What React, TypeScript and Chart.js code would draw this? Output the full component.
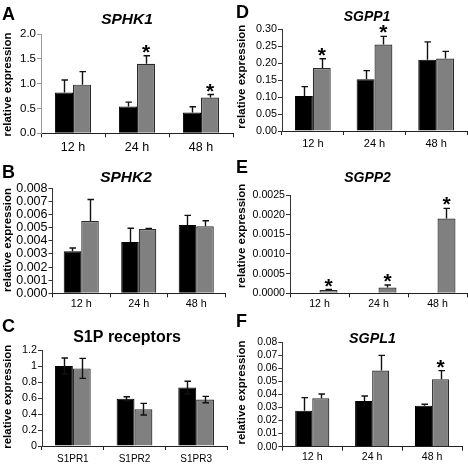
import React, { useEffect, useRef } from "react";
import { Chart, registerables } from "chart.js";

Chart.register(...registerables);

const FONT = "'Liberation Sans', Arial, sans-serif";

// ---------- data ----------
const timeLabels = ["12 h", "24 h", "48 h"];
const receptorLabels = ["S1PR1", "S1PR2", "S1PR3"];

// A  SPHK1
const sphk1Control = [0.82, 0.54, 0.42];
const sphk1Treated = [0.98, 1.4, 0.72];
const sphk1ControlErr = [0.255, 0.087, 0.115];
const sphk1TreatedErr = [0.263, 0.162, 0.061];
const sphk1Sig = [false, true, true];
const sphk1Ticks = ["0.0", "0.5", "1.0", "1.5", "2.0"];

// B  SPHK2
const sphk2Control = [0.0032, 0.0039, 0.0052];
const sphk2Treated = [0.0055, 0.0049, 0.0051];
const sphk2ControlErr = [0.00025, 0.00106, 0.00074];
const sphk2TreatedErr = [0.00165, 0.00005, 0.00043];
const sphk2Sig = [false, false, false];
const sphk2Ticks = ["0.000", "0.001", "0.002", "0.003", "0.004", "0.005", "0.006", "0.007", "0.008"];

// C  S1P receptors
const s1prControl = [1.0, 0.59, 0.73];
const s1prTreated = [0.97, 0.46, 0.58];
const s1prControlErr = [0.1, 0.025, 0.08];
const s1prTreatedErr = [0.125, 0.073, 0.04];
const s1prSig = [false, false, false];
const s1prTicks = ["0", "0.2", "0.4", "0.6", "0.8", "1", "1.2"];

// D  SGPP1
const sgpp1Control = [0.103, 0.153, 0.21];
const sgpp1Treated = [0.186, 0.255, 0.214];
const sgpp1ControlErr = [0.028, 0.025, 0.053];
const sgpp1TreatedErr = [0.027, 0.024, 0.021];
const sgpp1Sig = [true, true, false];
const sgpp1Ticks = ["0.00", "0.05", "0.10", "0.15", "0.20", "0.25", "0.30"];

// E  SGPP2
const sgpp2Control = [0, 0, 0];
const sgpp2Treated = [0.000085, 0.000145, 0.0019];
const sgpp2ControlErr = [0, 0, 0];
const sgpp2TreatedErr = [0.00001, 0.000065, 0.00026];
const sgpp2Sig = [true, true, true];
const sgpp2Ticks = ["0.0000", "0.0005", "0.0010", "0.0015", "0.0020", "0.0025"];

// F  SGPL1
const sgpl1Control = [0.0276, 0.035, 0.0314];
const sgpl1Treated = [0.0371, 0.0583, 0.0516];
const sgpl1ControlErr = [0.01, 0.0039, 0.0011];
const sgpl1TreatedErr = [0.0033, 0.0117, 0.0067];
const sgpl1Sig = [false, false, true];
const sgpl1Ticks = ["0.00", "0.01", "0.02", "0.03", "0.04", "0.05", "0.06", "0.07", "0.08"];

// ---------- panel layout ----------
const PW = 234;
const PH = 155;

type PanelCfg = {
  letter: string;
  letterY: number;
  title: string;
  italic: boolean;
  titleSize: number;
  titleX: number;
  titleY: number;
  yTitleY: number;
  offX: number;
  offY: number;
  chartLeft: number;
  chartRight: number;
  chartTop: number;
  chartBottom: number;
  labels: string[];
  control: number[];
  treated: number[];
  controlErr: number[];
  treatedErr: number[];
  sig: boolean[];
  twoSided: boolean;
  ticks: string[];
  yTickSize: number;
  xTickSize: number;
  xPad: number;
  catPct: number;
  yAxisColor: string;
};

const panels: PanelCfg[] = [
  {
    letter: "A", letterY: 20, title: "SPHK1", italic: true, titleSize: 15.5, titleX: 127, titleY: 20, yTitleY: 84.5,
    offX: 0, offY: 0, chartLeft: 41, chartRight: 233, chartTop: 34, chartBottom: 133.3,
    labels: timeLabels, control: sphk1Control, treated: sphk1Treated, controlErr: sphk1ControlErr, treatedErr: sphk1TreatedErr,
    sig: sphk1Sig, twoSided: false, ticks: sphk1Ticks, yTickSize: 11.5, xTickSize: 12.5, xPad: 3, catPct: 0.565, yAxisColor: "#9a9a9a",
  },
  {
    letter: "B", letterY: 23, title: "SPHK2", italic: true, titleSize: 15.5, titleX: 126, titleY: 23, yTitleY: 85,
    offX: 0, offY: 155, chartLeft: 52.5, chartRight: 225, chartTop: 33.3, chartBottom: 138.3,
    labels: timeLabels, control: sphk2Control, treated: sphk2Treated, controlErr: sphk2ControlErr, treatedErr: sphk2TreatedErr,
    sig: sphk2Sig, twoSided: false, ticks: sphk2Ticks, yTickSize: 12.5, xTickSize: 10.8, xPad: 0, catPct: 0.61, yAxisColor: "#333",
  },
  {
    letter: "C", letterY: 22, title: "S1P receptors", italic: false, titleSize: 16, titleX: 127, titleY: 28, yTitleY: 86.7,
    offX: 0, offY: 310, chartLeft: 42, chartRight: 227, chartTop: 40, chartBottom: 136,
    labels: receptorLabels, control: s1prControl, treated: s1prTreated, controlErr: s1prControlErr, treatedErr: s1prTreatedErr,
    sig: s1prSig, twoSided: true, ticks: s1prTicks, yTickSize: 10.8, xTickSize: 10, xPad: 3, catPct: 0.58, yAxisColor: "#333",
  },
  {
    letter: "D", letterY: 18, title: "SGPP1", italic: true, titleSize: 14, titleX: 133, titleY: 16.7, yTitleY: 76.7,
    offX: 234, offY: 0, chartLeft: 48, chartRight: 233, chartTop: 29.3, chartBottom: 131,
    labels: timeLabels, control: sgpp1Control, treated: sgpp1Treated, controlErr: sgpp1ControlErr, treatedErr: sgpp1TreatedErr,
    sig: sgpp1Sig, twoSided: false, ticks: sgpp1Ticks, yTickSize: 10.8, xTickSize: 11, xPad: 2, catPct: 0.58, yAxisColor: "#333",
  },
  {
    letter: "E", letterY: 18, title: "SGPP2", italic: true, titleSize: 14, titleX: 133.5, titleY: 23, yTitleY: 80.8,
    offX: 234, offY: 155, chartLeft: 56, chartRight: 233, chartTop: 40, chartBottom: 138.3,
    labels: timeLabels, control: sgpp2Control, treated: sgpp2Treated, controlErr: sgpp2ControlErr, treatedErr: sgpp2TreatedErr,
    sig: sgpp2Sig, twoSided: false, ticks: sgpp2Ticks, yTickSize: 10.6, xTickSize: 10.6, xPad: 0, catPct: 0.61, yAxisColor: "#333",
  },
  {
    letter: "F", letterY: 17, title: "SGPL1", italic: true, titleSize: 14.3, titleX: 138.5, titleY: 29, yTitleY: 82.5,
    offX: 234, offY: 310, chartLeft: 48.3, chartRight: 228, chartTop: 32.3, chartBottom: 136.7,
    labels: timeLabels, control: sgpl1Control, treated: sgpl1Treated, controlErr: sgpl1ControlErr, treatedErr: sgpl1TreatedErr,
    sig: sgpl1Sig, twoSided: false, ticks: sgpl1Ticks, yTickSize: 10.3, xTickSize: 10.6, xPad: 0, catPct: 0.57, yAxisColor: "#333",
  },
];

function Panel({ cfg }: { cfg: PanelCfg }) {
  const ref = useRef<HTMLCanvasElement | null>(null);

  useEffect(() => {
    if (!ref.current) return;
    const tickValues = cfg.ticks.map((t) => parseFloat(t));
    const yMax = tickValues[tickValues.length - 1];

    const deco = {
      id: "deco",
      afterDatasetsDraw(chart: any) {
        const ctx = chart.ctx;
        const ys = chart.scales.y;
        const series = [
          { v: cfg.control, e: cfg.controlErr },
          { v: cfg.treated, e: cfg.treatedErr },
        ];
        ctx.save();
        ctx.strokeStyle = "#111";
        ctx.lineWidth = 1.4;
        series.forEach((s, di) => {
          const meta = chart.getDatasetMeta(di);
          meta.data.forEach((el: any, i: number) => {
            const err = s.e[i];
            if (!err) return;
            const x = Math.round(el.x) + 0.5;
            const top = ys.getPixelForValue(s.v[i] + err);
            const bot = cfg.twoSided ? ys.getPixelForValue(s.v[i] - err) : ys.getPixelForValue(s.v[i]);
            ctx.beginPath();
            ctx.moveTo(x, bot);
            ctx.lineTo(x, top);
            ctx.moveTo(x - 3, top);
            ctx.lineTo(x + 3.5, top);
            if (cfg.twoSided) {
              ctx.moveTo(x - 3, bot);
              ctx.lineTo(x + 3.5, bot);
            }
            ctx.stroke();
          });
        });
        // significance stars on treated bars
        const meta1 = chart.getDatasetMeta(1);
        ctx.fillStyle = "#000";
        ctx.font = `bold 21px ${FONT}`;
        ctx.textAlign = "center";
        ctx.textBaseline = "alphabetic";
        meta1.data.forEach((el: any, i: number) => {
          if (!cfg.sig[i]) return;
          const top = ys.getPixelForValue(cfg.treated[i] + cfg.treatedErr[i]);
          ctx.fillText("*", el.x, top + 3);
        });
        ctx.restore();
      },
      afterDraw(chart: any) {
        const ctx = chart.ctx;
        ctx.save();
        ctx.fillStyle = "#000";
        // panel letter
        ctx.font = `bold 18px ${FONT}`;
        ctx.textAlign = "left";
        ctx.textBaseline = "alphabetic";
        ctx.fillText(cfg.letter, 2, cfg.letterY);
        // panel title
        ctx.font = `${cfg.italic ? "italic " : ""}bold ${cfg.titleSize}px ${FONT}`;
        ctx.textAlign = "center";
        ctx.textBaseline = "middle";
        ctx.fillText(cfg.title, cfg.titleX, cfg.titleY);
        // y-axis title
        ctx.translate(7.5, cfg.yTitleY);
        ctx.rotate(-Math.PI / 2);
        ctx.font = `bold 11.5px ${FONT}`;
        ctx.fillText("relative expression", 0, 0);
        ctx.restore();
      },
    };

    const chart = new Chart(ref.current, {
      type: "bar",
      data: {
        labels: cfg.labels,
        datasets: [
          {
            label: "control",
            data: cfg.control,
            backgroundColor: "#000000",
            borderColor: "#000000",
            borderWidth: (c: any) => (c.raw ? 1 : 0),
            categoryPercentage: cfg.catPct,
            barPercentage: 1,
          },
          {
            label: "treated",
            data: cfg.treated,
            backgroundColor: "#808080",
            borderColor: "#2a2a2a",
            borderWidth: 1.2,
            categoryPercentage: cfg.catPct,
            barPercentage: 1,
          },
        ],
      },
      options: {
        animation: false,
        responsive: false,
        devicePixelRatio: 1,
        layout: {
          padding: {
            left: 0,
            top: cfg.chartTop,
            right: PW - cfg.chartRight,
            bottom: 0,
          },
        },
        plugins: {
          legend: { display: false },
          title: { display: false },
          tooltip: { enabled: false },
        },
        scales: {
          x: {
            type: "category",
            offset: true,
            afterFit: (s: any) => {
              s.height = PH - cfg.chartBottom;
            },
            grid: {
              display: true,
              drawOnChartArea: false,
              drawTicks: true,
              tickLength: 4,
              color: "#222",
              offset: true,
            },
            border: { display: true, color: "#222", width: 1 },
            ticks: {
              color: "#000",
              padding: cfg.xPad,
              font: { family: FONT, size: cfg.xTickSize },
              maxRotation: 0,
              autoSkip: false,
            },
          },
          y: {
            type: "linear",
            min: 0,
            max: yMax,
            afterFit: (s: any) => {
              s.width = cfg.chartLeft;
            },
            afterBuildTicks: (s: any) => {
              s.ticks = tickValues.map((v) => ({ value: v }));
            },
            grid: {
              display: true,
              drawOnChartArea: false,
              drawTicks: true,
              tickLength: 4,
              color: cfg.yAxisColor,
            },
            border: { display: true, color: cfg.yAxisColor, width: 1 },
            ticks: {
              color: "#000",
              padding: 1,
              font: { family: FONT, size: cfg.yTickSize },
              callback: (_v: any, i: number) => cfg.ticks[i],
              autoSkip: false,
            },
          },
        },
      },
      plugins: [deco],
    } as any);

    return () => chart.destroy();
  }, [cfg]);

  return (
    <canvas
      ref={ref}
      width={PW}
      height={PH}
      style={{ position: "absolute", left: cfg.offX, top: cfg.offY, width: PW, height: PH }}
    />
  );
}

export default function App() {
  return (
    <div
      style={{
        position: "absolute",
        left: 0,
        top: 0,
        width: 468,
        height: 465,
        background: "#fff",
        overflow: "hidden",
      }}
    >
      {panels.map((p) => (
        <Panel key={p.letter} cfg={p} />
      ))}
    </div>
  );
}
